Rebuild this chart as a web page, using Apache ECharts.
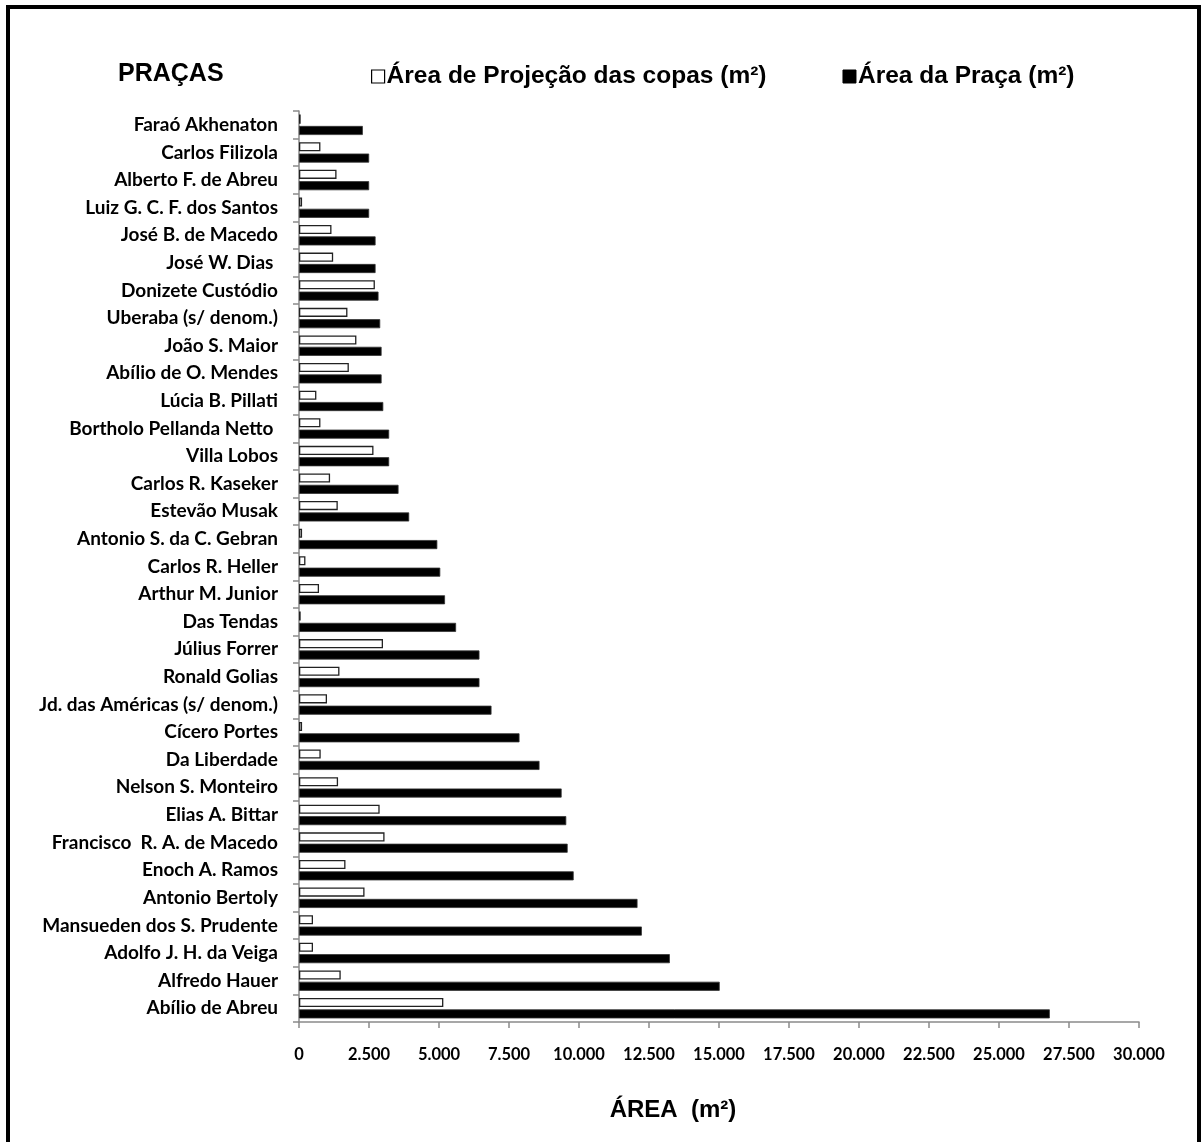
<!DOCTYPE html>
<html>
<head>
<meta charset="utf-8">
<script src="https://cdn.jsdelivr.net/npm/echarts@6/dist/echarts.min.js"></script>
<style>
  html, body { margin: 0; padding: 0; background: #fff; }
  #chart { width: 1202px; height: 1142px; }
</style>
</head>
<body>
<div id="chart"></div>
<script>
// Squares (praças), listed from top to bottom of the chart
const pracas = [
  'Faraó Akhenaton', 'Carlos Filizola', 'Alberto F. de Abreu', 'Luiz G. C. F. dos Santos',
  'José B. de Macedo', 'José W. Dias ', 'Donizete Custódio', 'Uberaba (s/ denom.)',
  'João S. Maior', 'Abílio de O. Mendes', 'Lúcia B. Pillati', 'Bortholo Pellanda Netto ',
  'Villa Lobos', 'Carlos R. Kaseker', 'Estevão Musak', 'Antonio S. da C. Gebran',
  'Carlos R. Heller', 'Arthur M. Junior', 'Das Tendas', 'Július Forrer',
  'Ronald Golias', 'Jd. das Américas (s/ denom.)', 'Cícero Portes', 'Da Liberdade',
  'Nelson S. Monteiro', 'Elias A. Bittar', 'Francisco  R. A. de Macedo', 'Enoch A. Ramos',
  'Antonio Bertoly', 'Mansueden dos S. Prudente', 'Adolfo J. H. da Veiga', 'Alfredo Hauer',
  'Abílio de Abreu'
];

// Canopy projection area (m²)
const areaCopas = [
  60, 765, 1340, 110,
  1160, 1220, 2710, 1730,
  2050, 1780, 620, 765,
  2660, 1110, 1385, 110,
  230, 715, 60, 3000,
  1445, 1000, 110, 775,
  1395, 2880, 3055, 1660,
  2340, 500, 500, 1490,
  5155
];

// Total square area (m²)
const areaPraca = [
  2280, 2505, 2505, 2505,
  2735, 2735, 2840, 2900,
  2950, 2950, 3010, 3220,
  3220, 3555, 3935, 4940,
  5045, 5215, 5610, 6445,
  6445, 6875, 7875, 8590,
  9380, 9545, 9595, 9810,
  12090, 12245, 13245, 15025,
  26815
];

// Value axis tick labels (Brazilian thousands separator)
const xTickLabels = ['0', '2.500', '5.000', '7.500', '10.000', '12.500', '15.000',
  '17.500', '20.000', '22.500', '25.000', '27.500', '30.000'];
const xStep = 2500;

const chart = echarts.init(document.getElementById('chart'), null, { renderer: 'canvas' });

const labelFont = 'Lato, "Open Sans", sans-serif';
const headFont = '"Liberation Sans", Arial, sans-serif';

chart.setOption({
  backgroundColor: '#fff',
  animation: false,
  title: {
    text: 'PRAÇAS',
    left: 113,
    top: 57,
    textStyle: { fontFamily: headFont, fontWeight: 'bold', fontSize: 25, color: '#000' }
  },
  legend: {
    top: 59,
    left: 366,
    itemWidth: 13,
    itemHeight: 13,
    itemGap: 76,
    icon: 'rect',
    textStyle: { fontFamily: headFont, fontWeight: 'bold', fontSize: 24.5, color: '#000', padding: [0, 0, 0, -3] },
    data: [
      { name: 'Área de Projeção das copas (m²)', itemStyle: { color: '#fff', borderColor: '#000', borderWidth: 1.2 } },
      { name: 'Área da Praça (m²)', itemStyle: { color: '#000', borderColor: '#000', borderWidth: 1 } }
    ]
  },
  grid: { left: 299, right: 63, top: 111, bottom: 120, containLabel: false },
  xAxis: {
    type: 'value',
    min: 0,
    max: 30000,
    interval: xStep,
    name: 'ÁREA  (m²)',
    nameLocation: 'middle',
    nameGap: 76,
    nameTextStyle: {
      fontFamily: headFont, fontWeight: 'bold', fontSize: 24, color: '#000',
      padding: [0, 92, 0, 0]
    },
    axisLine: { show: true, lineStyle: { color: '#8a8a8a', width: 1.5 } },
    axisTick: { show: true, length: 6, lineStyle: { color: '#8a8a8a', width: 1.5 } },
    splitLine: { show: false },
    axisLabel: {
      margin: 24,
      fontFamily: labelFont,
      fontWeight: 'bold',
      fontSize: 16.5,
      color: '#000',
      formatter: v => xTickLabels[Math.round(v / xStep)]
    }
  },
  yAxis: {
    type: 'category',
    inverse: true,
    data: pracas,
    axisLine: { show: true, lineStyle: { color: '#8a8a8a', width: 1.5 } },
    axisTick: { show: true, length: 6, lineStyle: { color: '#8a8a8a', width: 1.5 } },
    axisLabel: {
      margin: 21,
      interval: 0,
      fontFamily: labelFont,
      fontWeight: 'bold',
      fontSize: 19,
      color: '#000'
    }
  },
  series: [
    {
      name: 'Área de Projeção das copas (m²)',
      type: 'bar',
      data: areaCopas,
      barGap: '25%',
      barCategoryGap: '26%',
      itemStyle: { color: '#fff', borderColor: '#222', borderWidth: 1.3 }
    },
    {
      name: 'Área da Praça (m²)',
      type: 'bar',
      data: areaPraca,
      itemStyle: { color: '#000', borderColor: '#333', borderWidth: 0.8 }
    }
  ],
  graphic: [
    {
      type: 'rect',
      silent: true,
      shape: { x: 8, y: 7, width: 1191, height: 1160 },
      style: { fill: 'none', stroke: '#000', lineWidth: 4 }
    }
  ]
});
</script>
</body>
</html>
